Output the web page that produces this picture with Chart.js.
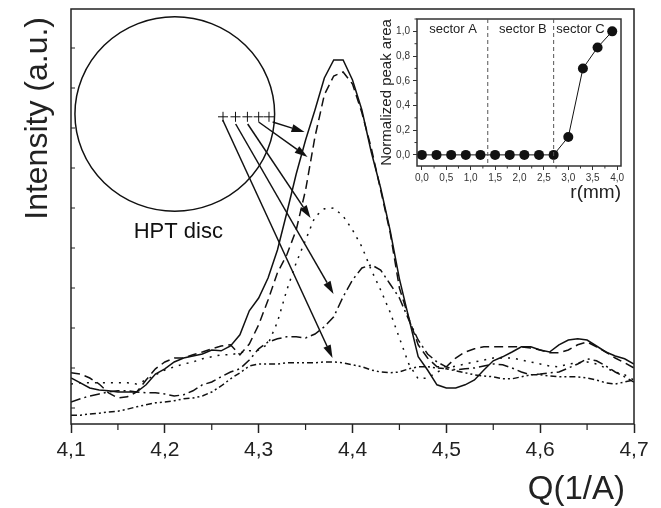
<!DOCTYPE html>
<html>
<head>
<meta charset="utf-8">
<script src="https://cdn.jsdelivr.net/npm/chart.js@4"></script>
<style>
  html, body { margin: 0; padding: 0; background: #fff; }
  #wrap { position: relative; width: 661px; height: 508px; }
  #main { position: absolute; left: 0; top: 0; }
  #inset { position: absolute; left: 365px; top: 10px; }
</style>
</head>
<body>
<div id="wrap">
  <canvas id="main" width="661" height="508"></canvas>
  <canvas id="inset" width="268" height="200"></canvas>
</div>
<script>
// main plot: intensity vs Q, five positions on the disc
const q = [4.10, 4.11, 4.12, 4.13, 4.14, 4.15, 4.16, 4.17, 4.18, 4.19,
  4.20, 4.21, 4.22, 4.23, 4.24, 4.25, 4.26, 4.27, 4.28, 4.29,
  4.30, 4.31, 4.32, 4.33, 4.34, 4.35, 4.36, 4.37, 4.38, 4.39,
  4.40, 4.41, 4.42, 4.43, 4.44, 4.45, 4.46, 4.47, 4.48, 4.49,
  4.50, 4.51, 4.52, 4.53, 4.54, 4.55, 4.56, 4.57, 4.58, 4.59,
  4.60, 4.61, 4.62, 4.63, 4.64, 4.65, 4.66, 4.67, 4.68, 4.69, 4.70];

const solid = [0.75, 0.63, 0.50, 0.45, 0.43, 0.40, 0.40, 0.40, 0.58, 0.85,
  0.98, 1.15, 1.25, 1.30, 1.35, 1.45, 1.43, 1.55, 1.83, 2.43,
  2.75, 3.25, 3.95, 4.88, 5.85, 6.70, 7.45, 8.25, 8.70, 8.70,
  8.20, 7.45, 6.40, 5.50, 4.45, 3.23, 2.25, 1.28, 0.95, 0.58,
  0.50, 0.50, 0.58, 0.70, 0.95, 1.18, 1.28, 1.40, 1.53, 1.53,
  1.45, 1.40, 1.58, 1.70, 1.73, 1.70, 1.55, 1.40, 1.30, 1.23, 1.10];

const dashed = [0.88, 0.85, 0.75, 0.60, 0.38, 0.25, 0.28, 0.40, 0.70, 0.98,
  1.15, 1.25, 1.25, 1.33, 1.40, 1.48, 1.55, 1.58, 1.33, 1.60,
  2.08, 2.70, 3.38, 3.83, 4.45, 5.45, 6.78, 7.83, 8.30, 8.40,
  8.10, 7.38, 6.50, 5.45, 4.40, 3.00, 2.25, 1.58, 1.25, 1.03,
  1.03, 1.25, 1.40, 1.48, 1.53, 1.53, 1.53, 1.53, 1.53, 1.50,
  1.45, 1.38, 1.38, 1.45, 1.58, 1.65, 1.53, 1.40, 1.25, 1.13, 1.00];

const dotted = [0.60, 0.63, 0.63, 0.63, 0.63, 0.63, 0.63, 0.60, 0.70, 0.83,
  0.95, 1.03, 1.10, 1.15, 1.23, 1.28, 1.33, 1.33, 1.38, 1.43,
  1.45, 1.60, 2.15, 2.95, 3.63, 4.20, 4.78, 4.98, 5.00, 4.80,
  4.45, 4.03, 3.45, 2.95, 2.40, 1.75, 1.10, 0.73, 0.75, 0.90,
  0.98, 1.05, 1.10, 1.15, 1.20, 1.25, 1.25, 1.25, 1.20, 1.15,
  1.10, 1.05, 1.03, 1.10, 1.13, 1.15, 1.10, 1.00, 0.90, 0.83, 0.70];

const dashDot = [0.15, 0.23, 0.30, 0.35, 0.40, 0.43, 0.43, 0.40, 0.38, 0.38,
  0.35, 0.30, 0.33, 0.43, 0.58, 0.65, 0.78, 0.90, 0.98, 1.20,
  1.48, 1.65, 1.73, 1.78, 1.78, 1.75, 1.85, 2.03, 2.28, 2.78,
  3.20, 3.50, 3.58, 3.45, 3.10, 2.75, 2.20, 1.70, 1.35, 1.15,
  1.03, 0.95, 0.98, 1.00, 1.05, 1.10, 1.08, 1.00, 0.90, 0.83,
  0.85, 0.88, 0.90, 1.00, 1.10, 1.23, 1.18, 1.05, 0.90, 0.78, 0.65];

const dashDotDot = [-0.18, -0.18, -0.15, -0.13, -0.10, -0.08, -0.03, 0.03, 0.08, 0.13,
  0.15, 0.18, 0.23, 0.25, 0.30, 0.40, 0.55, 0.73, 0.88, 1.05,
  1.10, 1.10, 1.10, 1.13, 1.13, 1.13, 1.13, 1.15, 1.15, 1.13,
  1.08, 1.03, 0.95, 0.90, 0.88, 0.90, 0.98, 1.03, 1.03, 1.00,
  0.98, 0.93, 0.88, 0.83, 0.80, 0.78, 0.73, 0.73, 0.78, 0.83,
  0.83, 0.80, 0.78, 0.78, 0.78, 0.75, 0.70, 0.63, 0.60, 0.65, 0.70];

// inset: normalized peak area vs radius
const radius = [0.0, 0.3, 0.6, 0.9, 1.2, 1.5, 1.8, 2.1, 2.4, 2.7, 3.0, 3.3, 3.6, 3.9];
const peakArea = [0, 0, 0, 0, 0, 0, 0, 0, 0, 0, 0.145, 0.70, 0.87, 1.0];
const sectorBounds = [1.35, 2.7];
const sectorNames = ['sector A', 'sector B', 'sector C'];
const sectorCenters = [0.64, 2.07, 3.25];

// sketch of the disc, measuring spots and arrows (in data units of the main plot)
const disc = { x: 4.2106, y: 7.35, rx: 0.1064, ry: 2.43 };
const spotX = [4.262, 4.2753, 4.288, 4.300, 4.311];
const spotY = 7.28;
const arrowFrom = [[4.2617, 7.2], [4.2755, 7.1], [4.2883, 7.1], [4.300, 7.15], [4.3149, 7.15]];
const arrowTo = [[4.3787, 1.25], [4.3798, 2.85], [4.3553, 4.75], [4.3521, 6.275], [4.3489, 6.9]];

const FONT = '"Liberation Sans", Arial, Helvetica, sans-serif';
Chart.defaults.font.family = FONT;
Chart.defaults.color = '#222';

const comma = (v) => Number(v).toFixed(1).replace('.', ',');

function series(values, dash) {
  return {
    data: q.map((x, i) => ({ x: x, y: values[i] })),
    borderColor: '#111',
    borderWidth: 1.5,
    borderDash: dash,
    pointRadius: 0,
    tension: 0,
    fill: false,
  };
}

const mainDecor = {
  id: 'mainDecor',
  afterDraw(chart) {
    const { ctx, chartArea: a, scales: { x, y } } = chart;
    ctx.save();
    ctx.strokeStyle = '#222';
    ctx.lineWidth = 1.5;
    ctx.strokeRect(a.left, a.top, a.right - a.left, a.bottom - a.top);

    // minor x ticks + inward y ticks
    ctx.lineWidth = 1.2;
    ctx.beginPath();
    for (let v = 4.15; v < 4.7; v += 0.1) {
      const px = x.getPixelForValue(v);
      ctx.moveTo(px, a.bottom);
      ctx.lineTo(px, a.bottom + 6);
    }
    for (let v = 0; v <= 9; v++) {
      const py = y.getPixelForValue(v);
      ctx.moveTo(a.left, py);
      ctx.lineTo(a.left + 4, py);
    }
    ctx.stroke();

    // axis titles
    ctx.fillStyle = '#222';
    ctx.textBaseline = 'middle';
    ctx.font = '33px ' + FONT;
    ctx.textAlign = 'right';
    ctx.fillText('Q(1/A)', a.right - 9, 490);
    ctx.save();
    ctx.translate(38, a.top + 8);
    ctx.rotate(-Math.PI / 2);
    ctx.font = '32px ' + FONT;
    ctx.fillText('Intensity (a.u.)', 0, 0);
    ctx.restore();

    // disc
    const cx = x.getPixelForValue(disc.x);
    const cy = y.getPixelForValue(disc.y);
    const rx = x.getPixelForValue(disc.x + disc.rx) - cx;
    const ry = y.getPixelForValue(disc.y - disc.ry) - cy;
    ctx.lineWidth = 1.5;
    ctx.strokeStyle = '#111';
    ctx.beginPath();
    ctx.ellipse(cx, cy, rx, ry, 0, 0, Math.PI * 2);
    ctx.stroke();

    ctx.fillStyle = '#111';
    ctx.font = '22px ' + FONT;
    ctx.textAlign = 'center';
    ctx.textBaseline = 'middle';
    ctx.fillText('HPT disc', x.getPixelForValue(4.2144), y.getPixelForValue(4.4));

    // spots
    ctx.lineWidth = 1;
    ctx.beginPath();
    const sy = y.getPixelForValue(spotY);
    spotX.forEach(v => {
      const px = x.getPixelForValue(v);
      ctx.moveTo(px - 5, sy); ctx.lineTo(px + 5, sy);
      ctx.moveTo(px, sy - 5); ctx.lineTo(px, sy + 5);
    });
    ctx.stroke();

    // arrows
    ctx.lineWidth = 1.5;
    arrowFrom.forEach((f, i) => {
      const x0 = x.getPixelForValue(f[0]), y0 = y.getPixelForValue(f[1]);
      const x1 = x.getPixelForValue(arrowTo[i][0]), y1 = y.getPixelForValue(arrowTo[i][1]);
      const ang = Math.atan2(y1 - y0, x1 - x0);
      const len = 13, hw = 4;
      const bx = x1 - len * Math.cos(ang), by = y1 - len * Math.sin(ang);
      ctx.beginPath();
      ctx.moveTo(x0, y0);
      ctx.lineTo(bx, by);
      ctx.stroke();
      ctx.beginPath();
      ctx.moveTo(x1, y1);
      ctx.lineTo(bx + hw * Math.sin(ang), by - hw * Math.cos(ang));
      ctx.lineTo(bx - hw * Math.sin(ang), by + hw * Math.cos(ang));
      ctx.closePath();
      ctx.fill();
    });
    ctx.restore();
  }
};

new Chart(document.getElementById('main'), {
  type: 'line',
  data: {
    datasets: [
      series(solid, []),
      series(dashed, [9, 5]),
      series(dotted, [2, 6]),
      series(dashDot, [10, 4, 2, 4]),
      series(dashDotDot, [6, 3, 2, 3, 2, 3]),
    ],
  },
  options: {
    responsive: false,
    animation: false,
    layout: { padding: { top: 9, right: 27, left: 0, bottom: 0 } },
    plugins: { legend: { display: false }, tooltip: { enabled: false } },
    scales: {
      x: {
        type: 'linear',
        min: 4.1,
        max: 4.7,
        afterFit: (s) => { s.height = 84; },
        border: { display: false },
        grid: { drawOnChartArea: false, drawTicks: true, tickLength: 9, tickColor: '#222', tickWidth: 1.5 },
        ticks: { stepSize: 0.1, padding: 5, color: '#222', font: { size: 21 }, callback: comma },
      },
      y: {
        min: -0.4,
        max: 9.975,
        afterFit: (s) => { s.width = 71; },
        border: { display: false },
        grid: { display: false },
        ticks: { display: false, stepSize: 1 },
      },
    },
  },
  plugins: [mainDecor],
});

const insetDecor = {
  id: 'insetDecor',
  afterDraw(chart) {
    const { ctx, chartArea: a, scales: { x, y } } = chart;
    ctx.save();
    ctx.strokeStyle = '#333';
    ctx.lineWidth = 1.5;
    ctx.strokeRect(a.left, a.top, a.right - a.left, a.bottom - a.top);

    // minor ticks
    ctx.lineWidth = 1;
    ctx.beginPath();
    for (let v = 0.25; v < 4.08; v += 0.5) {
      const px = x.getPixelForValue(v);
      ctx.moveTo(px, a.bottom); ctx.lineTo(px, a.bottom + 2.5);
    }
    for (let v = 0.1; v < 1.1; v += 0.2) {
      const py = y.getPixelForValue(v);
      ctx.moveTo(a.left, py); ctx.lineTo(a.left - 2.5, py);
    }
    ctx.stroke();

    // sector borders
    ctx.strokeStyle = '#555';
    ctx.lineWidth = 1;
    ctx.setLineDash([4, 3]);
    ctx.beginPath();
    sectorBounds.forEach(b => {
      const px = x.getPixelForValue(b);
      ctx.moveTo(px, a.top); ctx.lineTo(px, a.bottom);
    });
    ctx.stroke();
    ctx.setLineDash([]);

    ctx.fillStyle = '#222';
    ctx.font = '13px ' + FONT;
    ctx.textAlign = 'center';
    ctx.textBaseline = 'middle';
    sectorNames.forEach((n, i) => {
      ctx.fillText(n, x.getPixelForValue(sectorCenters[i]), y.getPixelForValue(1.016));
    });
    ctx.restore();
  }
};

new Chart(document.getElementById('inset'), {
  type: 'line',
  data: {
    datasets: [{
      data: radius.map((r, i) => ({ x: r, y: peakArea[i] })),
      borderColor: '#111',
      borderWidth: 1,
      pointRadius: 5,
      pointBackgroundColor: '#111',
      pointBorderWidth: 0,
      tension: 0,
      clip: false,
    }],
  },
  options: {
    responsive: false,
    animation: false,
    layout: { padding: { top: 7, right: 12, left: 0, bottom: 0 } },
    plugins: { legend: { display: false }, tooltip: { enabled: false } },
    scales: {
      x: {
        type: 'linear',
        min: -0.1,
        max: 4.08,
        afterFit: (s) => { s.height = 44; },
        border: { display: false },
        grid: { drawOnChartArea: false, tickLength: 4, tickColor: '#333', tickWidth: 1 },
        ticks: { stepSize: 0.5, includeBounds: false, padding: 2, color: '#333', font: { size: 10 }, callback: comma },
        title: { display: true, text: 'r(mm)', align: 'end', color: '#222', font: { size: 19 }, padding: { top: 0, bottom: 6 } },
      },
      y: {
        min: -0.09,
        max: 1.1,
        afterFit: (s) => { s.width = 52; },
        border: { display: false },
        grid: { drawOnChartArea: false, tickLength: 4, tickColor: '#333', tickWidth: 1 },
        ticks: { stepSize: 0.2, includeBounds: false, padding: 3, color: '#333', font: { size: 10 }, callback: comma },
        title: { display: true, text: 'Normalized peak area', color: '#222', font: { size: 15 }, padding: { top: 13, bottom: 0 } },
      },
    },
  },
  plugins: [insetDecor],
});
</script>
</body>
</html>
